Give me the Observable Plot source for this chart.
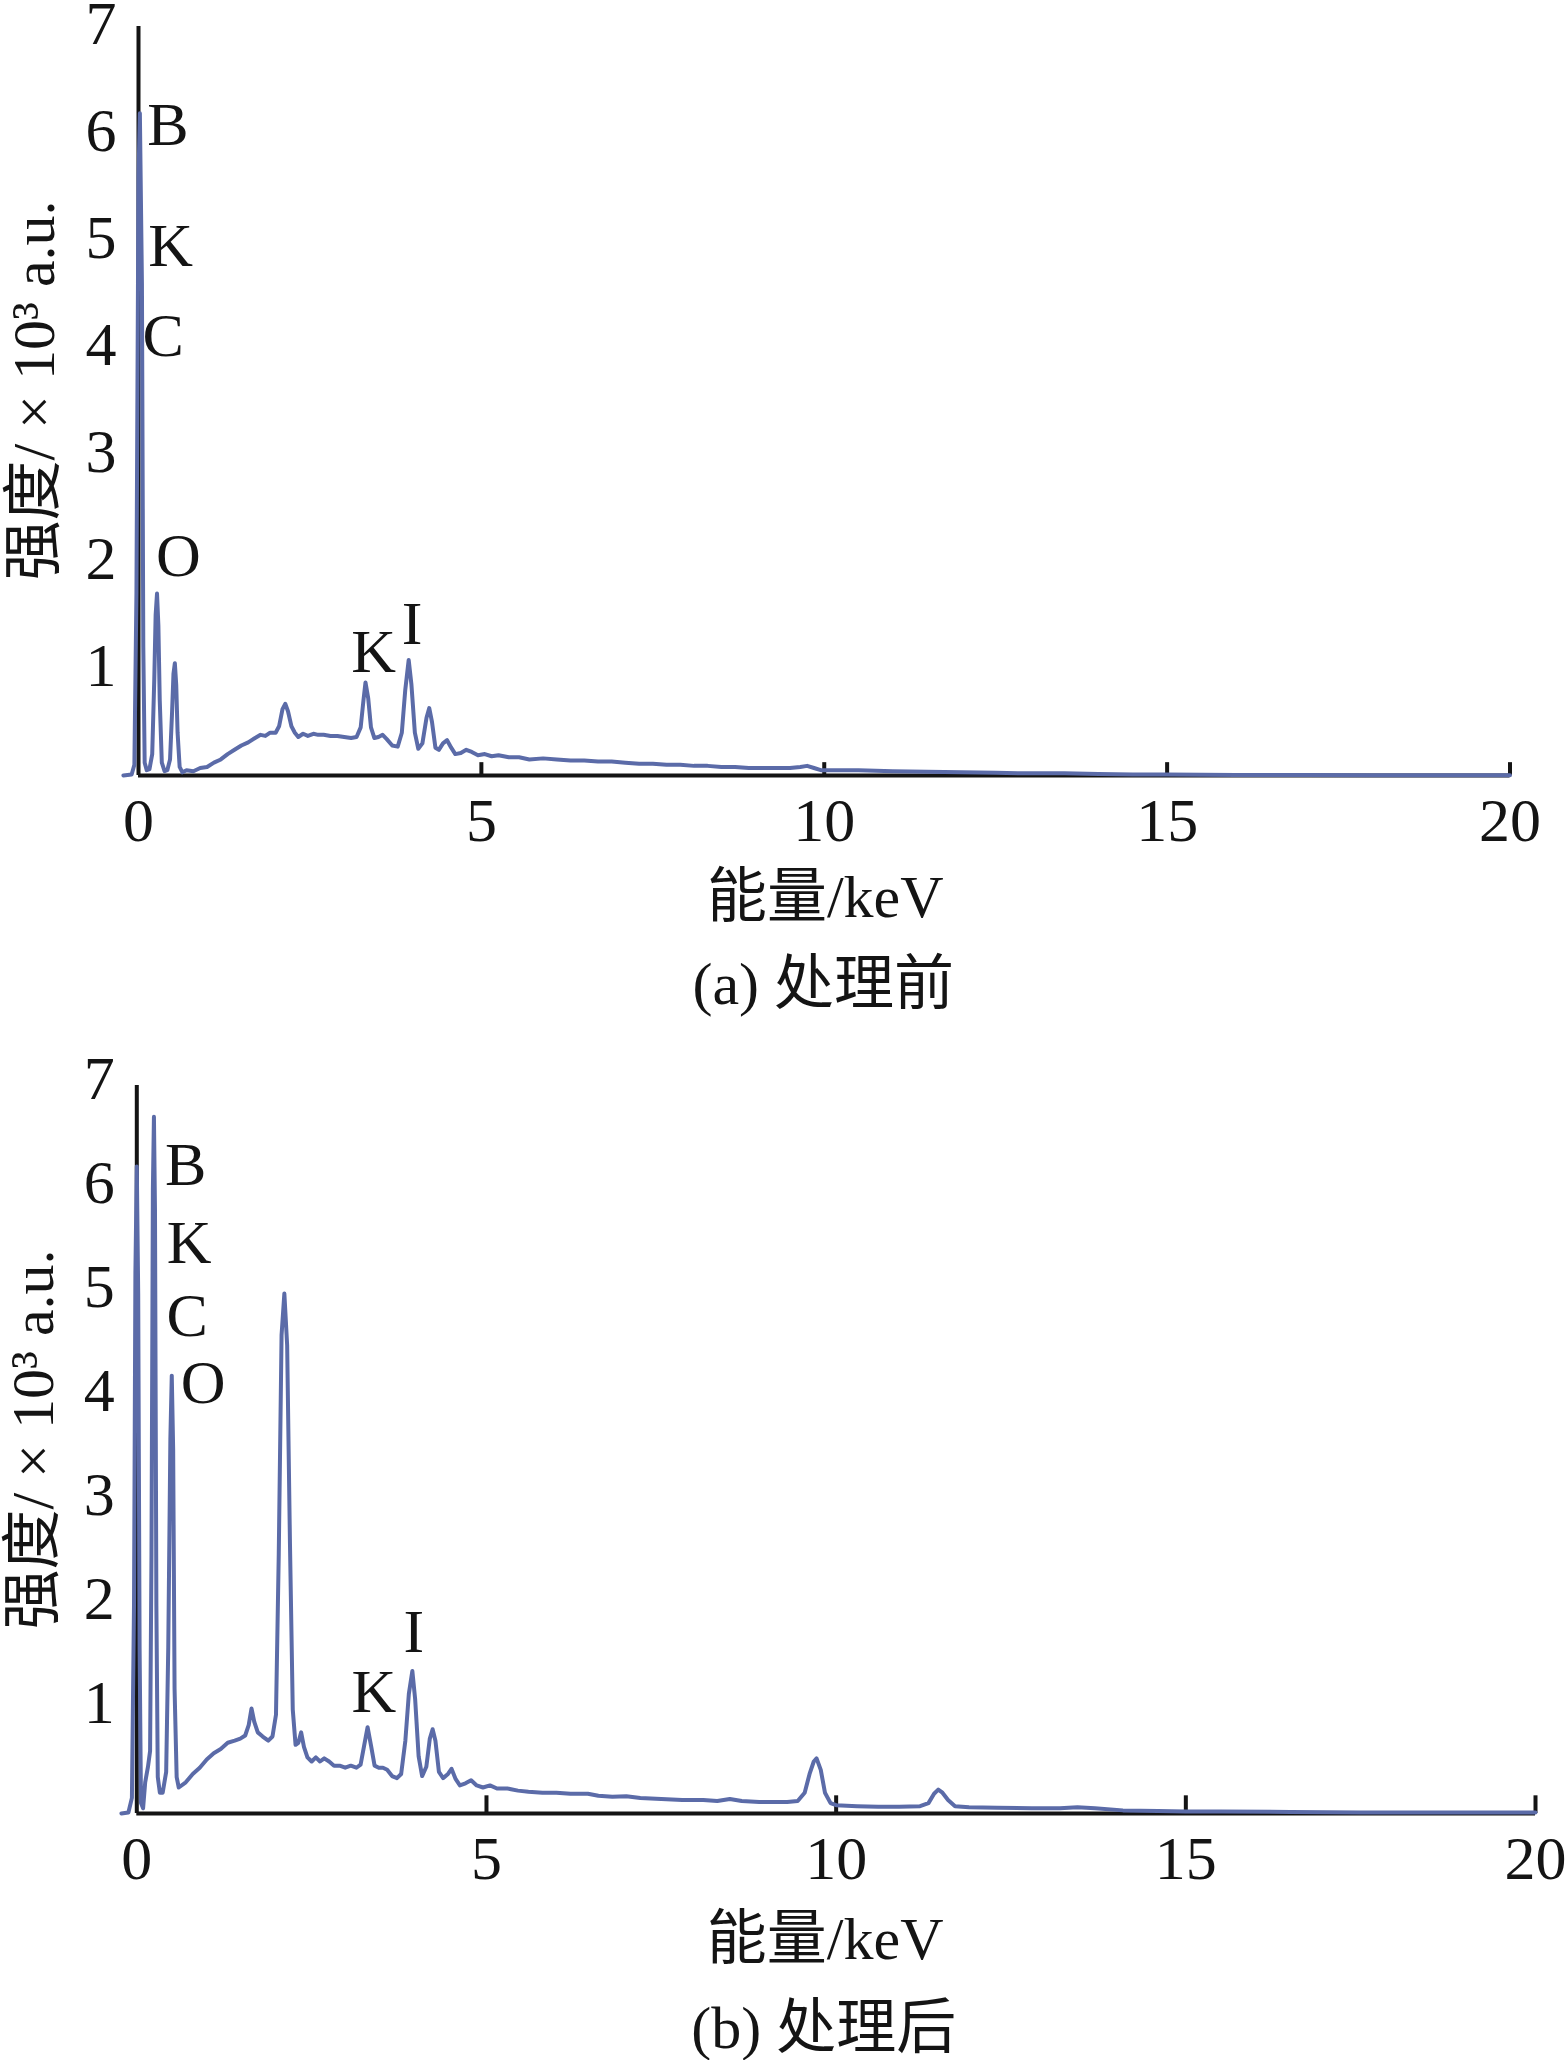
<!DOCTYPE html>
<html>
<head>
<meta charset="utf-8">
<script src="https://cdn.jsdelivr.net/npm/d3@7"></script>
<script src="https://cdn.jsdelivr.net/npm/@observablehq/plot@0.6"></script>
<style>
  html, body { margin: 0; padding: 0; background: #fff; overflow: hidden; }
  #wrap { width: 1565px; height: 2060px; position: relative; }
  #wrap svg { display: block; max-width: none; }
</style>
</head>
<body>
<div id="wrap"></div>
<script>
// ---- axis ticks ----
const xTicks = [0, 5, 10, 15, 20];
const yTicks = [1, 2, 3, 4, 5, 6, 7];

// ---- (a) before treatment: energy (keV) and intensity (x10^3 a.u.) ----
const energyA = [-0.22,-0.10,-0.06,-0.03,0.00,0.02,0.05,0.07,0.09,0.12,0.16,0.20,0.23,0.25,0.27,0.29,0.31,0.34,0.38,0.42,0.46,0.49,0.51,0.53,0.55,0.57,0.60,0.64,0.70,0.80,0.90,1.00,1.10,1.20,1.30,1.40,1.50,1.60,1.70,1.78,1.85,1.92,2.00,2.05,2.10,2.14,2.18,2.23,2.28,2.33,2.40,2.47,2.55,2.62,2.70,2.80,2.90,3.00,3.10,3.18,3.24,3.28,3.31,3.35,3.39,3.44,3.50,3.56,3.62,3.70,3.78,3.84,3.89,3.94,3.98,4.03,4.08,4.14,4.20,4.24,4.28,4.33,4.38,4.44,4.50,4.56,4.62,4.70,4.78,4.86,4.95,5.05,5.15,5.25,5.40,5.55,5.70,5.90,6.10,6.30,6.50,6.70,6.90,7.10,7.30,7.50,7.70,7.90,8.10,8.30,8.50,8.70,8.90,9.10,9.30,9.50,9.65,9.75,9.85,9.95,10.20,10.50,11.00,11.50,12.00,12.50,13.00,13.50,14.00,14.50,15.00,16.00,17.00,18.00,19.00,20.00];
const intensityA = [0.00,0.01,0.10,1.70,5.60,6.19,4.60,1.20,0.12,0.05,0.06,0.20,0.90,1.50,1.70,1.40,0.70,0.12,0.04,0.05,0.15,0.60,0.95,1.05,0.85,0.40,0.08,0.03,0.05,0.04,0.07,0.08,0.12,0.15,0.20,0.24,0.28,0.31,0.35,0.38,0.37,0.40,0.40,0.46,0.62,0.67,0.60,0.46,0.40,0.36,0.39,0.37,0.39,0.38,0.38,0.37,0.37,0.36,0.35,0.36,0.45,0.70,0.87,0.72,0.45,0.35,0.36,0.38,0.34,0.28,0.27,0.40,0.80,1.08,0.85,0.40,0.25,0.30,0.54,0.63,0.50,0.26,0.24,0.30,0.33,0.26,0.20,0.21,0.24,0.22,0.19,0.20,0.18,0.19,0.17,0.17,0.15,0.16,0.15,0.14,0.14,0.13,0.13,0.12,0.11,0.11,0.10,0.10,0.09,0.09,0.08,0.08,0.07,0.07,0.07,0.07,0.08,0.09,0.07,0.05,0.05,0.05,0.04,0.035,0.03,0.025,0.02,0.02,0.015,0.01,0.01,0.005,0.005,0.003,0.003,0.003];
const peakLabelsA = ["B", "K", "C", "O", "K", "I"];
const peakXA = [0.43, 0.47, 0.36, 0.58, 3.43, 3.99];
const peakYA = [6.08, 4.95, 4.11, 2.05, 1.15, 1.41];

// ---- (b) after treatment ----
const energyB = [-0.22,-0.12,-0.07,-0.04,-0.02,0.00,0.02,0.04,0.06,0.09,0.12,0.16,0.19,0.21,0.23,0.245,0.26,0.28,0.30,0.33,0.37,0.42,0.45,0.48,0.50,0.52,0.54,0.57,0.60,0.70,0.80,0.90,1.00,1.10,1.20,1.30,1.40,1.48,1.55,1.60,1.64,1.68,1.73,1.80,1.88,1.94,1.99,2.03,2.07,2.11,2.15,2.19,2.23,2.27,2.31,2.35,2.39,2.44,2.50,2.56,2.62,2.68,2.75,2.82,2.90,2.98,3.06,3.14,3.20,3.25,3.30,3.35,3.40,3.46,3.52,3.58,3.65,3.72,3.78,3.84,3.89,3.94,3.98,4.03,4.08,4.14,4.19,4.23,4.27,4.32,4.38,4.45,4.50,4.56,4.62,4.70,4.78,4.86,4.95,5.05,5.15,5.30,5.45,5.60,5.80,6.00,6.20,6.45,6.60,6.80,7.00,7.20,7.50,7.80,8.10,8.30,8.48,8.65,8.90,9.10,9.30,9.45,9.55,9.62,9.68,9.72,9.78,9.84,9.92,10.00,10.30,10.60,10.90,11.20,11.32,11.40,11.46,11.52,11.60,11.70,11.90,12.30,12.80,13.20,13.45,13.70,14.10,14.60,15.00,15.50,16.50,17.50,18.50,20.00];
const intensityB = [0.00,0.01,0.15,2.0,5.2,6.22,5.0,1.6,0.10,0.05,0.30,0.45,0.60,2.5,6.0,6.70,5.8,2.0,0.35,0.20,0.20,0.40,1.6,3.6,4.21,3.5,1.2,0.35,0.25,0.30,0.38,0.44,0.52,0.58,0.62,0.68,0.70,0.72,0.75,0.85,1.01,0.88,0.78,0.74,0.70,0.74,0.95,2.5,4.6,5.00,4.5,2.6,1.0,0.66,0.68,0.78,0.64,0.54,0.50,0.54,0.50,0.53,0.50,0.46,0.46,0.44,0.46,0.44,0.47,0.65,0.83,0.65,0.46,0.44,0.44,0.42,0.36,0.34,0.38,0.70,1.15,1.37,1.10,0.55,0.36,0.45,0.72,0.81,0.70,0.40,0.34,0.38,0.43,0.33,0.27,0.29,0.32,0.27,0.25,0.27,0.24,0.24,0.22,0.21,0.20,0.20,0.19,0.19,0.17,0.16,0.165,0.15,0.14,0.13,0.13,0.12,0.14,0.12,0.11,0.11,0.11,0.12,0.20,0.38,0.50,0.53,0.42,0.20,0.10,0.08,0.07,0.064,0.065,0.07,0.10,0.19,0.23,0.20,0.13,0.07,0.06,0.055,0.05,0.05,0.06,0.05,0.03,0.025,0.02,0.02,0.015,0.01,0.01,0.01];
const peakLabelsB = ["B", "K", "C", "O", "K", "I"];
const peakXB = [0.70, 0.75, 0.72, 0.95, 3.39, 3.96];
const peakYB = [6.23, 5.48, 4.78, 4.14, 1.17, 1.74];

// ---- text ----
const xTitle = "能量/keV";
const yTitle = "强度/ × 10³ a.u.";
const captionA = "(a) 处理前";
const captionB = "(b) 处理后";

const LINE = "#5b6ba8";
const INK = "#141414";
const FONT = "'Liberation Serif', 'Times New Roman', 'Noto Sans CJK SC', serif";

function panel(cfg) {
  return Plot.plot({
    width: 1565,
    height: cfg.height,
    marginLeft: cfg.marginLeft,
    marginRight: cfg.marginRight,
    marginTop: cfg.marginTop,
    marginBottom: cfg.marginBottom,
    x: {domain: [0, 20], label: null},
    y: {domain: [0, 7], label: null},
    style: {fontFamily: FONT, fontSize: "62px", color: INK, background: "white", overflow: "visible"},
    marks: [
      Plot.ruleY([0], {stroke: INK, strokeWidth: 4}),
      Plot.ruleX([0], {y1: 0, y2: 7, stroke: INK, strokeWidth: 4}),
      Plot.ruleX(xTicks.slice(1), {y1: 0, y2: cfg.tickLen, stroke: INK, strokeWidth: 4}),
      Plot.axisX(xTicks, {tickSize: 0, tickPadding: 21, label: null, fill: INK, tickFormat: d => String(d)}),
      Plot.axisY(yTicks, {tickSize: 0, tickPadding: 22, dy: cfg.yLabelDy, label: null, fill: INK, tickFormat: d => String(d)}),
      Plot.line(cfg.energy, {x: cfg.energy, y: cfg.intensity, stroke: LINE, strokeWidth: 4, strokeLinejoin: "round"}),
      Plot.text(cfg.labels, {x: cfg.lx, y: cfg.ly, text: cfg.labels, fill: INK, textAnchor: "middle"}),
      Plot.text([xTitle], {text: d => d, frameAnchor: "bottom", lineAnchor: "bottom", dy: cfg.titleDy, dx: cfg.titleDx, fontSize: 60, fill: INK}),
      Plot.text([cfg.caption], {text: d => d, frameAnchor: "bottom", lineAnchor: "bottom", dy: cfg.captionDy, dx: cfg.captionDx, fontSize: 60, fill: INK}),
      Plot.text([yTitle], {text: d => d, frameAnchor: "left", rotate: -90, lineAnchor: "bottom", textAnchor: "middle", dx: cfg.yTitleDx, dy: cfg.yTitleDy, fontSize: 60, fill: INK})
    ]
  });
}

const wrap = document.getElementById("wrap");
wrap.appendChild(panel({
  height: 1030, marginTop: 26, marginBottom: 255, marginLeft: 138, marginRight: 55.5,
  energy: energyA, intensity: intensityA,
  labels: peakLabelsA, lx: peakXA, ly: peakYA,
  caption: captionA, tickLen: 0.12, yLabelDy: -2,
  titleDy: 141, titleDx: 1, captionDy: 228, captionDx: -1,
  yTitleDx: -85, yTitleDy: -10.5
}));
wrap.appendChild(panel({
  height: 1030, marginTop: 55, marginBottom: 247, marginLeft: 136.3, marginRight: 30,
  energy: energyB, intensity: intensityB,
  labels: peakLabelsB, lx: peakXB, ly: peakYB,
  caption: captionB, tickLen: 0.17, yLabelDy: -6,
  titleDy: 145, titleDx: -11, captionDy: 234, captionDx: -12.5,
  yTitleDx: -84, yTitleDy: -10
}));
</script>
</body>
</html>
